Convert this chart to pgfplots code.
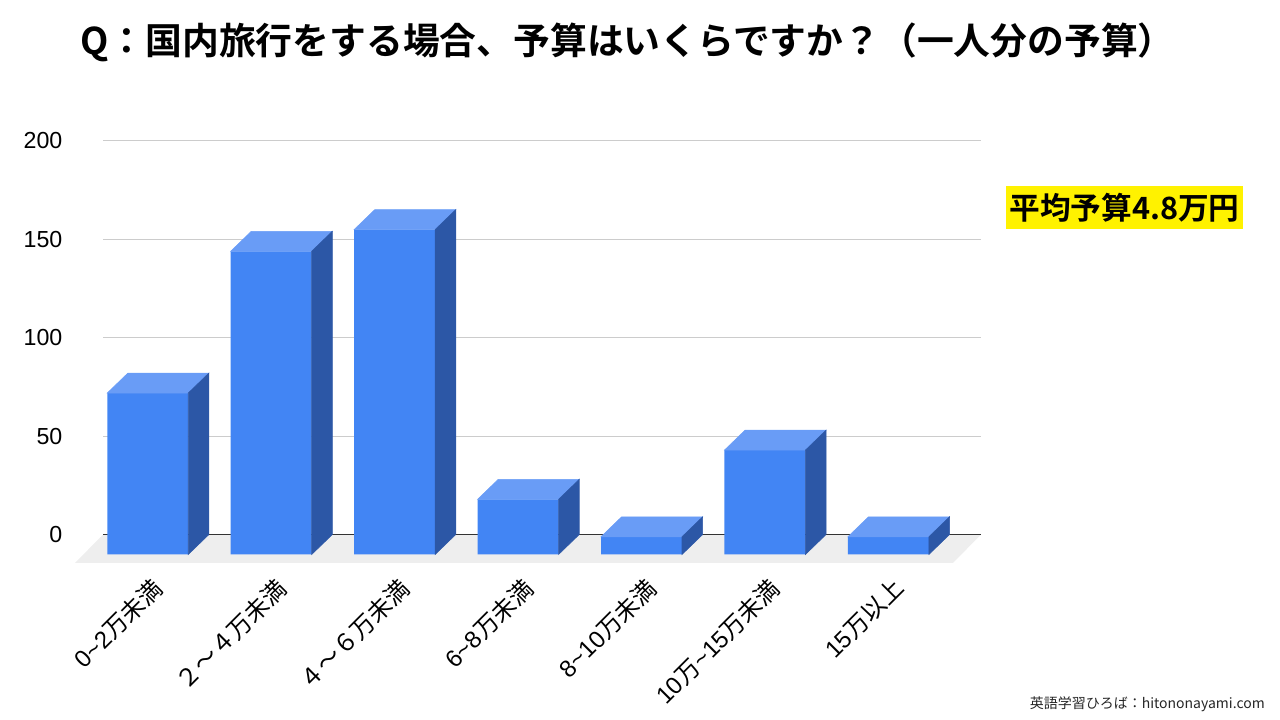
\documentclass[border=0pt]{standalone}
\usepackage{fontspec}
\setmainfont{Liberation Sans}
\newfontfamily\cjk{Noto Sans CJK JP}[BoldFont={Noto Sans CJK JP Bold}]
\usepackage{pgfplots}
\pgfplotsset{compat=1.18}
\usepackage{pgfplotstable}

\definecolor{frontc}{HTML}{4285F4}
\definecolor{topc}{HTML}{699CF6}
\definecolor{sidec}{HTML}{2C57A6}
\definecolor{floorc}{HTML}{EEEEEE}
\definecolor{gridc}{HTML}{CCCCCC}

\pgfdeclareplotmark{nomark}{}

\pgfplotstableread{
x v
0 82
1 154
2 165
3 28
4 9
5 53
6 9
}\budget

\begin{document}
\begin{tikzpicture}
\path[use as bounding box] (0,0) rectangle (960pt,540pt);
\begin{axis}[
  at={(77.25pt,139.125pt)}, anchor=south west,
  scale only axis, width=658.5pt, height=295.35pt,
  xmin=-0.53, xmax=6.583, ymin=0, ymax=200,
  enlargelimits=false, clip=false,
  axis line style={draw=none}, tick style={draw=none},
  ytick={0,50,100,150,200},
  ymajorgrids, grid style={gridc, line width=0.75pt},
  /pgf/number format/assume math mode=true,
  yticklabel style={font=\fontsize{17.4}{20}\selectfont, anchor=east, inner sep=0pt, xshift=-30.25pt},
  xtick={0,...,6},
  xticklabels={
    {0\textasciitilde 2{\cjk 万未満}},
    {\cjk ２～４万未満},
    {\cjk ４～６万未満},
    {6\textasciitilde 8{\cjk 万未満}},
    {8\textasciitilde 10{\cjk 万未満}},
    {10{\cjk 万}\textasciitilde 15{\cjk 万未満}},
    {15{\cjk 万以上}}
  },
  xticklabel style={font=\fontsize{18}{20}\selectfont, xshift=-13.5pt, yshift=-31pt, rotate=45, anchor=north east, inner sep=0pt, outer sep=0pt},
]
% floor
\addplot[fill=floorc, draw=none] coordinates {(-0.53,0) (6.583,0) (6.356,-14.47) (-0.757,-14.47)} -- cycle;
% baseline
\addplot[black!80, line width=0.75pt] coordinates {(-0.53,0) (6.583,0)};
% front faces
\addplot[ybar, bar width=60.75pt, bar shift=0pt, fill=frontc, draw=none, xshift=-15.5pt, yshift=-15pt] table[x=x,y=v] {\budget};
% top and side faces
\addplot[scatter, only marks, mark=nomark,
  visualization depends on={\thisrow{v} \as \barval},
  scatter/@pre marker code/.code={%
    \pgfmathsetmacro\hh{\barval*1.47675}%
    \fill[topc] (-45.875pt,-15pt) -- (14.875pt,-15pt) -- (30.375pt,0pt) -- (-30.375pt,0pt) -- cycle;
    \fill[sidec] (14.875pt,-15pt) -- (30.375pt,0pt) -- (30.375pt,-\hh pt) -- (14.875pt,-\hh pt-15pt) -- cycle;
  },
  scatter/@post marker code/.code={}
] table[x=x,y=v] {\budget};
\end{axis}
\node[anchor=west, inner sep=0pt] at (60pt,508.5pt) {\cjk\bfseries\fontsize{27.6}{30}\selectfont Q：国内旅行をする場合、予算はいくらですか？（一人分の予算）};
\node[fill=yellow, minimum width=177.75pt, minimum height=32.25pt, inner sep=0pt] at (843.4pt,384.4pt) {\cjk\bfseries\fontsize{23}{25}\selectfont 平均予算4.8万円};
\node[anchor=east, inner sep=0pt, text=black!85] at (948.75pt,12pt) {\cjk\fontsize{10.5}{12}\selectfont 英語学習ひろば：hitononayami.com};
\end{tikzpicture}
\end{document}
